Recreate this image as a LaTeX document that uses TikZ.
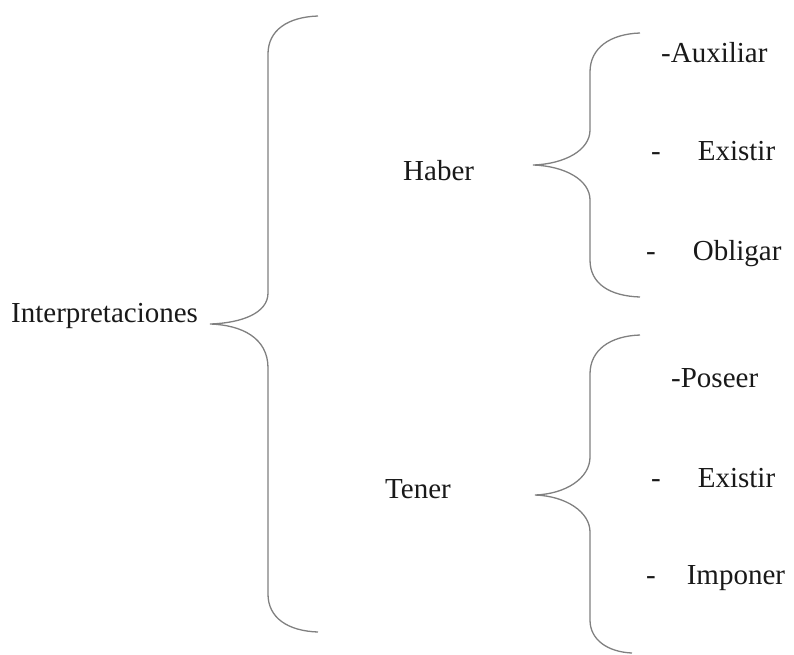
\documentclass[tikz,border=0pt]{standalone}
\usepackage{fontspec}
\setmainfont{Liberation Serif}
\usepackage{tikz}
\tikzset{
x=1pt, y=-1pt,
word/.style={anchor=base west, inner sep=0pt, font=\fontsize{29}{34}\selectfont, text=black!90},
brace/.style={draw=black!50, line width=1.3pt},
}
\begin{document}
\begin{tikzpicture}
\useasboundingbox (0,0) rectangle (794,654);
% left side
\node[word] (interp) at (11,322) {Interpretaciones};
\node[word] (haber) at (403,180) {Haber};
\node[word] (tener) at (385,498) {Tener};
% Haber group
\node[word] (auxiliar) at (661,62) {-Auxiliar};
\node[word] (existirA) at (651,160) {-\hspace{37pt}Existir};
\node[word] (obligar) at (646,260) {-\hspace{37pt}Obligar};
% Tener group
\node[word] (poseer) at (671,387) {-Poseer};
\node[word] (existirB) at (651,487) {-\hspace{37pt}Existir};
\node[word] (imponer) at (646,584) {-\hspace{31pt}Imponer};
% big brace
\draw[brace] (318,16) .. controls (288,17) and (268,30) .. (268,54)
  -- (268,293) .. controls (268,313) and (242,323) .. (210,324)
  .. controls (242,325) and (268,338) .. (268,368)
  -- (268,594) .. controls (268,618) and (288,631) .. (318,632);
% brace for Haber
\draw[brace] (640,33) .. controls (610,34) and (590,48) .. (590,72)
  -- (590,130) .. controls (590,150) and (565,164) .. (533,165)
  .. controls (565,166) and (590,180) .. (590,200)
  -- (590,260) .. controls (590,284) and (610,296) .. (640,297);
% brace for Tener
\draw[brace] (640,335) .. controls (610,336) and (590,350) .. (590,374)
  -- (590,457) .. controls (590,478) and (566,494) .. (535,495)
  .. controls (566,496) and (590,512) .. (590,532)
  -- (590,620) .. controls (590,640) and (608,652) .. (632,653);
\end{tikzpicture}
\end{document}
